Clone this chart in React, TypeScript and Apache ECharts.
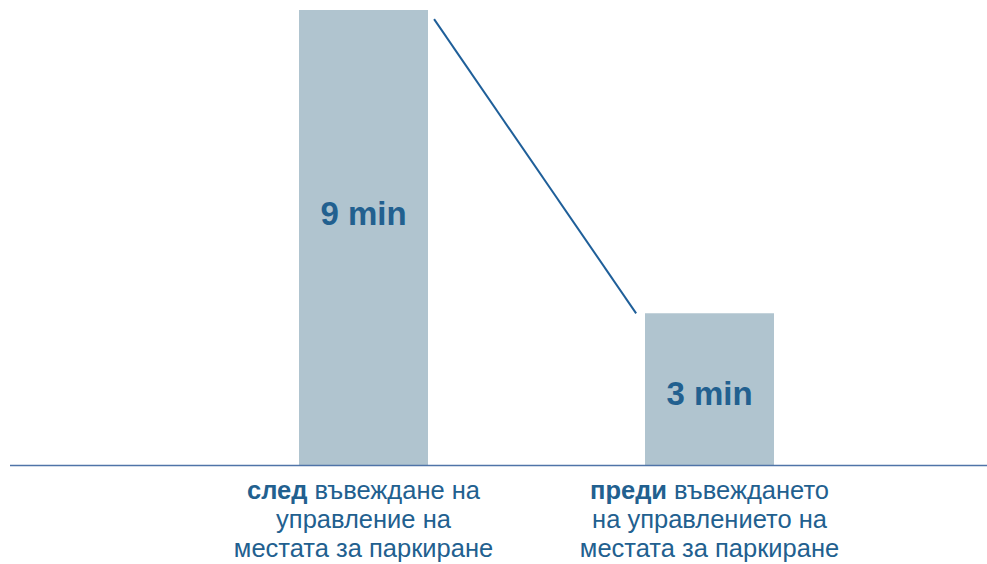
import React, { useEffect, useRef } from "react";
import * as echarts from "echarts";

const categories = ["after", "before"];
const boldWords = ["след", "преди"];
const restLines = [
  [" въвеждане на", "управление на", "местата за паркиране"],
  [" въвеждането", "на управлението на", "местата за паркиране"],
];
const values = [9, 3];
const valueLabels = ["9 min", "3 min"];
const connectorX = [0.704, 1.288];
const connectorY = [8.82, 3];

export default function App() {
  const ref = useRef<HTMLDivElement>(null);
  useEffect(() => {
    document.body.style.margin = "0";
    const chart = echarts.init(ref.current!, null, { renderer: "svg" });
    const textColor = "#22608f";
    const font = "Liberation Sans, Arial, sans-serif";
    chart.setOption({
      animation: false,
      backgroundColor: "#ffffff",
      textStyle: { fontFamily: font },
      grid: { left: 190.5, right: 104.5, top: 10, bottom: 99, containLabel: false },
      xAxis: [
        {
          type: "category",
          data: categories,
          axisLine: { show: false },
          axisTick: { show: false },
          axisLabel: {
            margin: 10,
            interval: 0,
            lineHeight: 29,
            color: textColor,
            fontSize: 25.5,
            formatter: (_v: string, i: number) => {
              const r = restLines[i];
              return `{b|${boldWords[i]}}{n|${r[0]}}\n{n|${r[1]}}\n{n|${r[2]}}`;
            },
            rich: {
              b: { fontWeight: "bold", fontSize: 25.5, color: textColor, lineHeight: 29, fontFamily: font },
              n: { fontSize: 25.5, color: textColor, lineHeight: 29, fontFamily: font },
            },
          },
        },
        { type: "value", min: 0, max: 2, show: false },
      ],
      yAxis: { type: "value", min: 0, max: 9, show: false },
      series: [
        {
          type: "bar",
          xAxisIndex: 0,
          barWidth: 129,
          data: values.map((v, i) => ({
            value: v,
            label: { offset: [0, i === 0 ? -24 : 4] },
          })),
          itemStyle: { color: "#b0c4cf" },
          label: {
            show: true,
            position: "inside",
            formatter: (p: any) => valueLabels[p.dataIndex],
            color: textColor,
            fontSize: 33,
            fontWeight: "bold",
            fontFamily: font,
          },
        },
        {
          type: "line",
          xAxisIndex: 1,
          data: connectorX.map((x, i) => [x, connectorY[i]]),
          symbol: "none",
          lineStyle: { color: "#1f5f99", width: 2 },
        },
      ],
    });
    const y0 = Math.round(chart.convertToPixel({ yAxisIndex: 0 }, 0) as number) + 0.5;
    chart.setOption({
      graphic: [
        {
          type: "line",
          shape: { x1: 10, y1: y0, x2: 987, y2: y0 },
          style: { stroke: "#4f74a8", lineWidth: 1.5 },
          z: 10,
        },
      ],
    });
    return () => chart.dispose();
  }, []);
  return <div ref={ref} style={{ width: 987, height: 564 }} />;
}
